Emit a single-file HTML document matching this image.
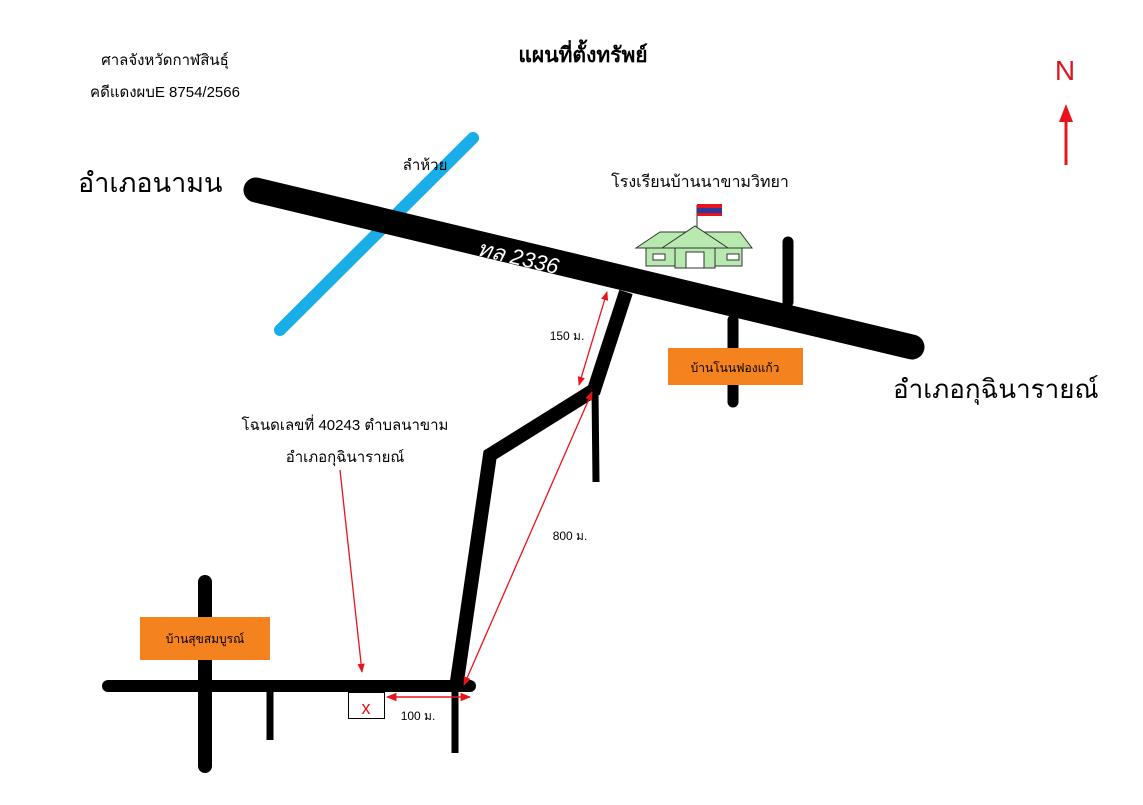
<!DOCTYPE html>
<html><head><meta charset="utf-8"><style>
body{margin:0;background:#fff}
svg text{font-family:"Liberation Sans","Noto Sans CJK SC","WenQuanYi Zen Hei",sans-serif}
</style></head><body>
<svg width="1143" height="800" viewBox="0 0 1143 800" xmlns="http://www.w3.org/2000/svg">
<defs>
<marker id="a" viewBox="0 0 10 10" refX="9" refY="5" markerWidth="7" markerHeight="7" orient="auto-start-reverse"><path d="M0,1 L10,5 L0,9 z" fill="#e8141c"/></marker>
</defs>
<rect width="1143" height="800" fill="#fff"/>
<!-- stream -->
<line x1="280" y1="330" x2="473" y2="138" stroke="#1aaee8" stroke-width="12" stroke-linecap="round"/>
<!-- main road -->
<line x1="256" y1="190" x2="912" y2="347" stroke="#000" stroke-width="25" stroke-linecap="round"/>
<text x="0" y="0" fill="#fff" font-size="22" font-style="italic" transform="translate(476,255) rotate(13.4)">ทล 2336</text>
<line x1="788" y1="242" x2="788" y2="302" stroke="#000" stroke-width="11" stroke-linecap="round"/>
<line x1="733" y1="320" x2="733" y2="402" stroke="#000" stroke-width="11" stroke-linecap="round"/>
<rect x="668" y="348" width="135" height="37" fill="#f4821f"/>
<text x="735" y="372" font-size="12" text-anchor="middle">บ้านโนนฟองแก้ว</text>
<!-- branch road -->
<polyline points="626,292 594,390 490,455 456,688" fill="none" stroke="#000" stroke-width="14" stroke-linejoin="miter"/>
<line x1="595" y1="390" x2="596" y2="482" stroke="#000" stroke-width="7"/>
<!-- bottom roads -->
<line x1="108" y1="686" x2="470" y2="686" stroke="#000" stroke-width="12" stroke-linecap="round"/>
<line x1="205" y1="582" x2="205" y2="766" stroke="#000" stroke-width="14" stroke-linecap="round"/>
<line x1="270" y1="690" x2="270" y2="740" stroke="#000" stroke-width="7"/>
<line x1="455" y1="688" x2="455" y2="753" stroke="#000" stroke-width="7"/>
<rect x="140" y="617" width="130" height="43" fill="#f4821f"/>
<text x="205" y="643" font-size="12" text-anchor="middle">บ้านสุขสมบูรณ์</text>
<rect x="348.5" y="692.5" width="36" height="26" fill="#fff" stroke="#000"/>
<text x="366" y="714" font-size="18" fill="#e8141c" text-anchor="middle">x</text>
<!-- red arrows -->
<line x1="607" y1="292" x2="579" y2="385" stroke="#e8141c" stroke-width="1.3" marker-start="url(#a)" marker-end="url(#a)"/>
<line x1="592" y1="392" x2="464" y2="685" stroke="#e8141c" stroke-width="1.3" marker-start="url(#a)" marker-end="url(#a)"/>
<line x1="387" y1="697" x2="470" y2="697" stroke="#e8141c" stroke-width="1.5" marker-start="url(#a)" marker-end="url(#a)"/>
<line x1="340" y1="470" x2="362" y2="672" stroke="#e8141c" stroke-width="1.3" marker-end="url(#a)"/>
<!-- school -->
<g stroke="#333" stroke-width="1">
<line x1="697" y1="205" x2="697" y2="250"/>
<rect x="697" y="204" width="25" height="4" fill="#e8141c" stroke="none"/>
<rect x="697" y="208" width="25" height="5" fill="#2b3a9e" stroke="none"/>
<rect x="697" y="213" width="25" height="3" fill="#e8141c" stroke="none"/>
<polygon points="636,248 660,232 740,232 752,248" fill="#b8eab0"/>
<rect x="646" y="248" width="96" height="18" fill="#b8eab0"/>
<polygon points="662,248 695,226 728,248" fill="#b8eab0"/>
<rect x="675" y="248" width="40" height="20" fill="#b8eab0"/>
<rect x="653" y="254" width="12" height="6" fill="#fff"/>
<rect x="727" y="254" width="12" height="6" fill="#fff"/>
<rect x="686" y="252" width="18" height="16" fill="#fff"/>
</g>
<!-- texts -->
<text x="165" y="65" font-size="15" text-anchor="middle">ศาลจังหวัดกาฬสินธุ์</text>
<text x="165" y="97" font-size="15" text-anchor="middle">คดีแดงผบE 8754/2566</text>
<text x="583" y="62" font-size="21" font-weight="bold" text-anchor="middle">แผนที่ตั้งทรัพย์</text>
<text x="1065" y="80" font-size="28" fill="#d7191f" text-anchor="middle">N</text>
<line x1="1066" y1="165" x2="1066" y2="108" stroke="#e8141c" stroke-width="3"/>
<polygon points="1066,104 1059,122 1073,122" fill="#e8141c"/>
<text x="78" y="192" font-size="27">อำเภอนามน</text>
<text x="893" y="398" font-size="26">อำเภอกุฉินารายณ์</text>
<text x="425" y="170" font-size="15" text-anchor="middle">ลำห้วย</text>
<text x="700" y="187" font-size="16" text-anchor="middle">โรงเรียนบ้านนาขามวิทยา</text>
<text x="345" y="430" font-size="15" text-anchor="middle">โฉนดเลขที่  40243 ตำบลนาขาม</text>
<text x="345" y="462" font-size="15" text-anchor="middle">อำเภอกุฉินารายณ์</text>
<text x="567" y="340" font-size="12" text-anchor="middle">150 ม.</text>
<text x="570" y="540" font-size="12" text-anchor="middle">800 ม.</text>
<text x="418" y="720" font-size="12" text-anchor="middle">100 ม.</text>
</svg>
</body></html>
